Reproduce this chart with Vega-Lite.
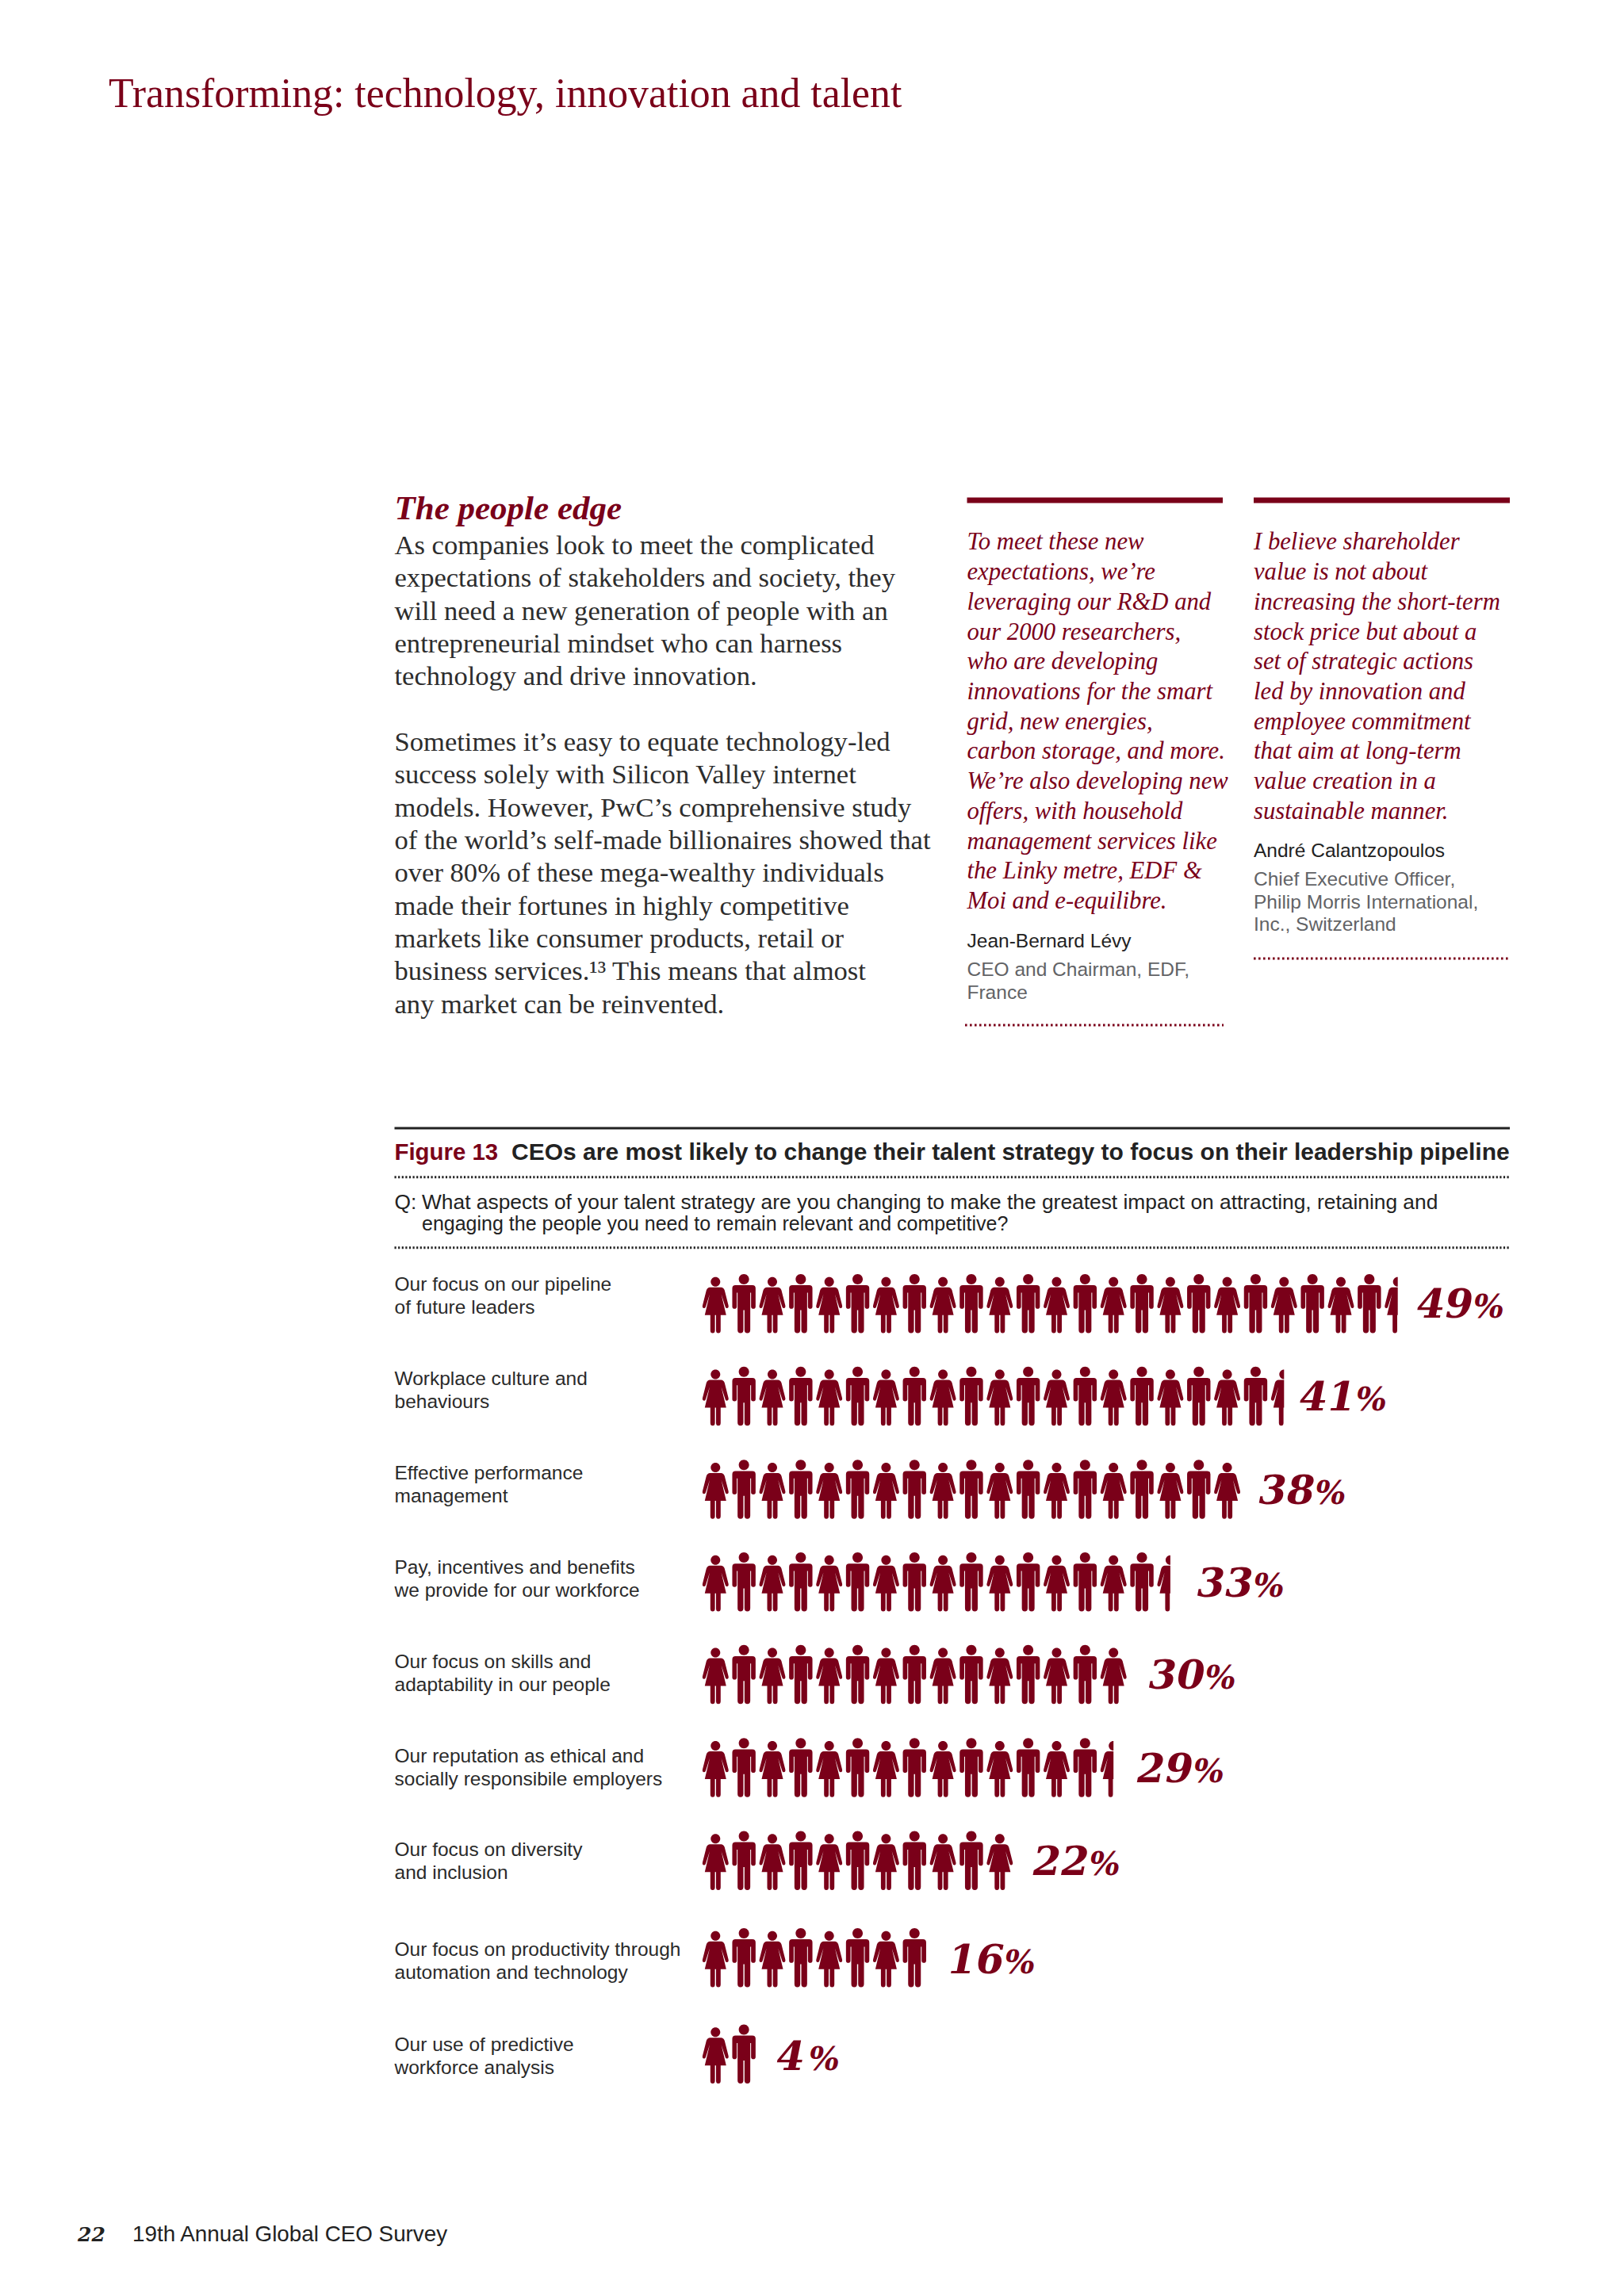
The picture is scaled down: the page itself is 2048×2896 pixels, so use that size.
{
"$schema":"https://vega.github.io/schema/vega-lite/v6.json",
"autosize":{"type":"fit","contains":"padding"},"width":2048,"height":2896,"padding":0,"background":"#ffffff",
"config":{"view":{"stroke":null}},
"datasets":{
"rules":[
{"style":"heavy","line":1,"col":7,"colEnd":8},{"style":"heavy","line":1,"col":9,"colEnd":10},
{"style":"dotRed","line":2,"col":9,"colEnd":10},{"style":"dotRed","line":3,"col":7,"colEnd":8},
{"style":"dark","line":4,"col":4,"colEnd":10},
{"style":"dotDark","line":5,"col":4,"colEnd":10},{"style":"dotDark","line":6,"col":4,"colEnd":10}
],
"page":[
{"style":"title","col":2,"line":1,"text":"Transforming: technology, innovation and talent"},
{"style":"head","col":4,"line":1,"text":"The people edge"},
{"style":"body","col":4,"line":1,"text":"As companies look to meet the complicated"},
{"style":"body","col":4,"line":2,"text":"expectations of stakeholders and society, they"},
{"style":"body","col":4,"line":3,"text":"will need a new generation of people with an"},
{"style":"body","col":4,"line":4,"text":"entrepreneurial mindset who can harness"},
{"style":"body","col":4,"line":5,"text":"technology and drive innovation."},
{"style":"body","col":4,"line":7,"text":"Sometimes it’s easy to equate technology-led"},
{"style":"body","col":4,"line":8,"text":"success solely with Silicon Valley internet"},
{"style":"body","col":4,"line":9,"text":"models. However, PwC’s comprehensive study"},
{"style":"body","col":4,"line":10,"text":"of the world’s self-made billionaires showed that"},
{"style":"body","col":4,"line":11,"text":"over 80% of these mega-wealthy individuals"},
{"style":"body","col":4,"line":12,"text":"made their fortunes in highly competitive"},
{"style":"body","col":4,"line":13,"text":"markets like consumer products, retail or"},
{"style":"body","col":4,"line":14,"text":"business services.¹³ This means that almost"},
{"style":"body","col":4,"line":15,"text":"any market can be reinvented."},
{"style":"quote","col":7,"line":1,"text":"To meet these new"},
{"style":"quote","col":7,"line":2,"text":"expectations, we’re"},
{"style":"quote","col":7,"line":3,"text":"leveraging our R&D and"},
{"style":"quote","col":7,"line":4,"text":"our 2000 researchers,"},
{"style":"quote","col":7,"line":5,"text":"who are developing"},
{"style":"quote","col":7,"line":6,"text":"innovations for the smart"},
{"style":"quote","col":7,"line":7,"text":"grid, new energies,"},
{"style":"quote","col":7,"line":8,"text":"carbon storage, and more."},
{"style":"quote","col":7,"line":9,"text":"We’re also developing new"},
{"style":"quote","col":7,"line":10,"text":"offers, with household"},
{"style":"quote","col":7,"line":11,"text":"management services like"},
{"style":"quote","col":7,"line":12,"text":"the Linky metre, EDF &"},
{"style":"quote","col":7,"line":13,"text":"Moi and e-equilibre."},
{"style":"quote","col":9,"line":1,"text":"I believe shareholder"},
{"style":"quote","col":9,"line":2,"text":"value is not about"},
{"style":"quote","col":9,"line":3,"text":"increasing the short-term"},
{"style":"quote","col":9,"line":4,"text":"stock price but about a"},
{"style":"quote","col":9,"line":5,"text":"set of strategic actions"},
{"style":"quote","col":9,"line":6,"text":"led by innovation and"},
{"style":"quote","col":9,"line":7,"text":"employee commitment"},
{"style":"quote","col":9,"line":8,"text":"that aim at long-term"},
{"style":"quote","col":9,"line":9,"text":"value creation in a"},
{"style":"quote","col":9,"line":10,"text":"sustainable manner."},
{"style":"name","col":7,"line":2,"text":"Jean-Bernard Lévy"},
{"style":"name","col":9,"line":1,"text":"André Calantzopoulos"},
{"style":"role","col":9,"line":1,"text":"Chief Executive Officer,"},
{"style":"role","col":9,"line":2,"text":"Philip Morris International,"},
{"style":"role","col":9,"line":3,"text":"Inc., Switzerland"},
{"style":"role","col":7,"line":5,"text":"CEO and Chairman, EDF,"},
{"style":"role","col":7,"line":6,"text":"France"},
{"style":"figNo","col":4,"line":1,"text":"Figure 13"},
{"style":"figTitle","col":6,"line":1,"text":"CEOs are most likely to change their talent strategy to focus on their leadership pipeline"},
{"style":"question","col":4,"line":1,"text":"Q:"},
{"style":"question","col":5,"line":1,"text":"What aspects of your talent strategy are you changing to make the greatest impact on attracting, retaining and"},
{"style":"question2","col":5,"line":2,"text":"engaging the people you need to remain relevant and competitive?"},
{"style":"pageNo","col":1,"line":1,"text":"22"},
{"style":"footer","col":3,"line":1,"text":"19th Annual Global CEO Survey"}
],
"rows":[
{"rank":1,"label":"Our focus on our pipeline\nof future leaders","value":49},
{"rank":2,"label":"Workplace culture and\nbehaviours","value":41},
{"rank":3,"label":"Effective performance\nmanagement","value":38},
{"rank":4,"label":"Pay, incentives and benefits\nwe provide for our workforce","value":33},
{"rank":5,"label":"Our focus on skills and\nadaptability in our people","value":30},
{"rank":6,"label":"Our reputation as ethical and\nsocially responsibile employers","value":29},
{"rank":7,"label":"Our focus on diversity\nand inclusion","value":22},
{"rank":8,"label":"Our focus on productivity through\nautomation and technology","value":16},
{"rank":9,"label":"Our use of predictive\nworkforce analysis","value":4}
],
"figures":[
{"rank":1,"n":1,"figure":"woman"},{"rank":1,"n":2,"figure":"man"},{"rank":1,"n":3,"figure":"woman"},{"rank":1,"n":4,"figure":"man"},{"rank":1,"n":5,"figure":"woman"},{"rank":1,"n":6,"figure":"man"},{"rank":1,"n":7,"figure":"woman"},{"rank":1,"n":8,"figure":"man"},{"rank":1,"n":9,"figure":"woman"},{"rank":1,"n":10,"figure":"man"},{"rank":1,"n":11,"figure":"woman"},{"rank":1,"n":12,"figure":"man"},{"rank":1,"n":13,"figure":"woman"},{"rank":1,"n":14,"figure":"man"},{"rank":1,"n":15,"figure":"woman"},{"rank":1,"n":16,"figure":"man"},{"rank":1,"n":17,"figure":"woman"},{"rank":1,"n":18,"figure":"man"},{"rank":1,"n":19,"figure":"woman"},{"rank":1,"n":20,"figure":"man"},{"rank":1,"n":21,"figure":"woman"},{"rank":1,"n":22,"figure":"man"},{"rank":1,"n":23,"figure":"woman"},{"rank":1,"n":24,"figure":"man"},{"rank":1,"n":25,"figure":"womanHalf"},
{"rank":2,"n":1,"figure":"woman"},{"rank":2,"n":2,"figure":"man"},{"rank":2,"n":3,"figure":"woman"},{"rank":2,"n":4,"figure":"man"},{"rank":2,"n":5,"figure":"woman"},{"rank":2,"n":6,"figure":"man"},{"rank":2,"n":7,"figure":"woman"},{"rank":2,"n":8,"figure":"man"},{"rank":2,"n":9,"figure":"woman"},{"rank":2,"n":10,"figure":"man"},{"rank":2,"n":11,"figure":"woman"},{"rank":2,"n":12,"figure":"man"},{"rank":2,"n":13,"figure":"woman"},{"rank":2,"n":14,"figure":"man"},{"rank":2,"n":15,"figure":"woman"},{"rank":2,"n":16,"figure":"man"},{"rank":2,"n":17,"figure":"woman"},{"rank":2,"n":18,"figure":"man"},{"rank":2,"n":19,"figure":"woman"},{"rank":2,"n":20,"figure":"man"},{"rank":2,"n":21,"figure":"womanHalf"},
{"rank":3,"n":1,"figure":"woman"},{"rank":3,"n":2,"figure":"man"},{"rank":3,"n":3,"figure":"woman"},{"rank":3,"n":4,"figure":"man"},{"rank":3,"n":5,"figure":"woman"},{"rank":3,"n":6,"figure":"man"},{"rank":3,"n":7,"figure":"woman"},{"rank":3,"n":8,"figure":"man"},{"rank":3,"n":9,"figure":"woman"},{"rank":3,"n":10,"figure":"man"},{"rank":3,"n":11,"figure":"woman"},{"rank":3,"n":12,"figure":"man"},{"rank":3,"n":13,"figure":"woman"},{"rank":3,"n":14,"figure":"man"},{"rank":3,"n":15,"figure":"woman"},{"rank":3,"n":16,"figure":"man"},{"rank":3,"n":17,"figure":"woman"},{"rank":3,"n":18,"figure":"man"},{"rank":3,"n":19,"figure":"woman"},
{"rank":4,"n":1,"figure":"woman"},{"rank":4,"n":2,"figure":"man"},{"rank":4,"n":3,"figure":"woman"},{"rank":4,"n":4,"figure":"man"},{"rank":4,"n":5,"figure":"woman"},{"rank":4,"n":6,"figure":"man"},{"rank":4,"n":7,"figure":"woman"},{"rank":4,"n":8,"figure":"man"},{"rank":4,"n":9,"figure":"woman"},{"rank":4,"n":10,"figure":"man"},{"rank":4,"n":11,"figure":"woman"},{"rank":4,"n":12,"figure":"man"},{"rank":4,"n":13,"figure":"woman"},{"rank":4,"n":14,"figure":"man"},{"rank":4,"n":15,"figure":"woman"},{"rank":4,"n":16,"figure":"man"},{"rank":4,"n":17,"figure":"womanHalf"},
{"rank":5,"n":1,"figure":"woman"},{"rank":5,"n":2,"figure":"man"},{"rank":5,"n":3,"figure":"woman"},{"rank":5,"n":4,"figure":"man"},{"rank":5,"n":5,"figure":"woman"},{"rank":5,"n":6,"figure":"man"},{"rank":5,"n":7,"figure":"woman"},{"rank":5,"n":8,"figure":"man"},{"rank":5,"n":9,"figure":"woman"},{"rank":5,"n":10,"figure":"man"},{"rank":5,"n":11,"figure":"woman"},{"rank":5,"n":12,"figure":"man"},{"rank":5,"n":13,"figure":"woman"},{"rank":5,"n":14,"figure":"man"},{"rank":5,"n":15,"figure":"woman"},
{"rank":6,"n":1,"figure":"woman"},{"rank":6,"n":2,"figure":"man"},{"rank":6,"n":3,"figure":"woman"},{"rank":6,"n":4,"figure":"man"},{"rank":6,"n":5,"figure":"woman"},{"rank":6,"n":6,"figure":"man"},{"rank":6,"n":7,"figure":"woman"},{"rank":6,"n":8,"figure":"man"},{"rank":6,"n":9,"figure":"woman"},{"rank":6,"n":10,"figure":"man"},{"rank":6,"n":11,"figure":"woman"},{"rank":6,"n":12,"figure":"man"},{"rank":6,"n":13,"figure":"woman"},{"rank":6,"n":14,"figure":"man"},{"rank":6,"n":15,"figure":"womanHalf"},
{"rank":7,"n":1,"figure":"woman"},{"rank":7,"n":2,"figure":"man"},{"rank":7,"n":3,"figure":"woman"},{"rank":7,"n":4,"figure":"man"},{"rank":7,"n":5,"figure":"woman"},{"rank":7,"n":6,"figure":"man"},{"rank":7,"n":7,"figure":"woman"},{"rank":7,"n":8,"figure":"man"},{"rank":7,"n":9,"figure":"woman"},{"rank":7,"n":10,"figure":"man"},{"rank":7,"n":11,"figure":"woman"},
{"rank":8,"n":1,"figure":"woman"},{"rank":8,"n":2,"figure":"man"},{"rank":8,"n":3,"figure":"woman"},{"rank":8,"n":4,"figure":"man"},{"rank":8,"n":5,"figure":"woman"},{"rank":8,"n":6,"figure":"man"},{"rank":8,"n":7,"figure":"woman"},{"rank":8,"n":8,"figure":"man"},
{"rank":9,"n":1,"figure":"woman"},{"rank":9,"n":2,"figure":"man"}
]
},
"resolve":{"scale":{"x":"independent","y":"independent"}},
"layer":[
{"data":{"name":"rules"},"transform":[{"filter":"datum.style==='heavy'"}],"mark":{"type":"rule","color":"#7A0019","strokeWidth":7},
 "encoding":{"x":{"field":"col","type":"quantitative","axis":null,"scale":{"domain":[1,2,3,4,5,6,7,8,9,10],"range":[97,137,167,497.5,532,645,1219.5,1542,1581,1904]}},"x2":{"field":"colEnd"},
 "y":{"field":"line","type":"quantitative","axis":null,"scale":{"domain":[1,2,3,4,5,6],"range":[631,1209,1293,1423,1484.7,1573.7]}}}},
{"data":{"name":"rules"},"transform":[{"filter":"datum.style==='dotRed'"}],"mark":{"type":"rule","color":"#7A0019","strokeWidth":3,"strokeDash":[2.6,3.4]},
 "encoding":{"x":{"field":"col","type":"quantitative","axis":null,"scale":{"domain":[1,2,3,4,5,6,7,8,9,10],"range":[97,137,167,497.5,532,645,1217,1543,1581,1904]}},"x2":{"field":"colEnd"},
 "y":{"field":"line","type":"quantitative","axis":null,"scale":{"domain":[1,2,3,4,5,6],"range":[631,1209,1293,1423,1484.7,1573.7]}}}},
{"data":{"name":"rules"},"transform":[{"filter":"datum.style==='dark'"}],"mark":{"type":"rule","color":"#222222","strokeWidth":3},
 "encoding":{"x":{"field":"col","type":"quantitative","axis":null,"scale":{"domain":[1,2,3,4,5,6,7,8,9,10],"range":[97,137,167,497.5,532,645,1219.5,1542,1581,1904]}},"x2":{"field":"colEnd"},
 "y":{"field":"line","type":"quantitative","axis":null,"scale":{"domain":[1,2,3,4,5,6],"range":[631,1209,1293,1423,1484.7,1573.7]}}}},
{"data":{"name":"rules"},"transform":[{"filter":"datum.style==='dotDark'"}],"mark":{"type":"rule","color":"#222222","strokeWidth":3,"strokeDash":[2.2,2.4]},
 "encoding":{"x":{"field":"col","type":"quantitative","axis":null,"scale":{"domain":[1,2,3,4,5,6,7,8,9,10],"range":[97,137,167,497.5,532,645,1219.5,1542,1581,1904]}},"x2":{"field":"colEnd"},
 "y":{"field":"line","type":"quantitative","axis":null,"scale":{"domain":[1,2,3,4,5,6],"range":[631,1209,1293,1423,1484.7,1573.7]}}}},
{"data":{"name":"page"},"transform":[{"filter":"datum.style==='title'"}],"mark":{"type":"text","align":"left","baseline":"alphabetic","font":"Liberation Serif","fontSize":51.8,"color":"#7A0019"},
 "encoding":{"x":{"field":"col","type":"quantitative","axis":null,"scale":{"domain":[1,2,3,4,5,6,7,8,9,10],"range":[97,137,167,497.5,532,645,1219.5,1542,1581,1904]}},"y":{"field":"line","type":"quantitative","axis":null,"scale":{"domain":[1,2],"range":[135,200]}},"text":{"field":"text"}}},
{"data":{"name":"page"},"transform":[{"filter":"datum.style==='head'"}],"mark":{"type":"text","align":"left","baseline":"alphabetic","font":"Liberation Serif","fontSize":43,"fontWeight":"bold","fontStyle":"italic","color":"#7A0019"},
 "encoding":{"x":{"field":"col","type":"quantitative","axis":null,"scale":{"domain":[1,2,3,4,5,6,7,8,9,10],"range":[97,137,167,497.5,532,645,1219.5,1542,1581,1904]}},"y":{"field":"line","type":"quantitative","axis":null,"scale":{"domain":[1,2],"range":[655,700]}},"text":{"field":"text"}}},
{"data":{"name":"page"},"transform":[{"filter":"datum.style==='body'"}],"mark":{"type":"text","align":"left","baseline":"alphabetic","font":"Liberation Serif","fontSize":34.6,"color":"#2D2D2D"},
 "encoding":{"x":{"field":"col","type":"quantitative","axis":null,"scale":{"domain":[1,2,3,4,5,6,7,8,9,10],"range":[97,137,167,497.5,532,645,1219.5,1542,1581,1904]}},"y":{"field":"line","type":"quantitative","axis":null,"scale":{"domain":[1,15],"range":[699,1277.5]}},"text":{"field":"text"}}},
{"data":{"name":"page"},"transform":[{"filter":"datum.style==='quote'"}],"mark":{"type":"text","align":"left","baseline":"alphabetic","font":"Liberation Serif","fontSize":30.7,"fontStyle":"italic","color":"#7A0019"},
 "encoding":{"x":{"field":"col","type":"quantitative","axis":null,"scale":{"domain":[1,2,3,4,5,6,7,8,9,10],"range":[97,137,167,497.5,532,645,1219.5,1542,1581,1904]}},"y":{"field":"line","type":"quantitative","axis":null,"scale":{"domain":[1,13],"range":[693.4,1146]}},"text":{"field":"text"}}},
{"data":{"name":"page"},"transform":[{"filter":"datum.style==='name'"}],"mark":{"type":"text","align":"left","baseline":"alphabetic","font":"Liberation Sans","fontSize":24.5,"color":"#222222"},
 "encoding":{"x":{"field":"col","type":"quantitative","axis":null,"scale":{"domain":[1,2,3,4,5,6,7,8,9,10],"range":[97,137,167,497.5,532,645,1219.5,1542,1581,1904]}},"y":{"field":"line","type":"quantitative","axis":null,"scale":{"domain":[1,2],"range":[1080.5,1194.5]}},"text":{"field":"text"}}},
{"data":{"name":"page"},"transform":[{"filter":"datum.style==='role'"}],"mark":{"type":"text","align":"left","baseline":"alphabetic","font":"Liberation Sans","fontSize":24.5,"color":"#626366"},
 "encoding":{"x":{"field":"col","type":"quantitative","axis":null,"scale":{"domain":[1,2,3,4,5,6,7,8,9,10],"range":[97,137,167,497.5,532,645,1219.5,1542,1581,1904]}},"y":{"field":"line","type":"quantitative","axis":null,"scale":{"domain":[1,6],"range":[1117,1260]}},"text":{"field":"text"}}},
{"data":{"name":"page"},"transform":[{"filter":"datum.style==='figNo'"}],"mark":{"type":"text","align":"left","baseline":"alphabetic","font":"Liberation Sans","fontSize":29.4,"fontWeight":"bold","color":"#7A0019"},
 "encoding":{"x":{"field":"col","type":"quantitative","axis":null,"scale":{"domain":[1,2,3,4,5,6,7,8,9,10],"range":[97,137,167,497.5,532,645,1219.5,1542,1581,1904]}},"y":{"field":"line","type":"quantitative","axis":null,"scale":{"domain":[1,2],"range":[1463,1500]}},"text":{"field":"text"}}},
{"data":{"name":"page"},"transform":[{"filter":"datum.style==='figTitle'"}],"mark":{"type":"text","align":"left","baseline":"alphabetic","font":"Liberation Sans","fontSize":30,"fontWeight":"bold","color":"#222222"},
 "encoding":{"x":{"field":"col","type":"quantitative","axis":null,"scale":{"domain":[1,2,3,4,5,6,7,8,9,10],"range":[97,137,167,497.5,532,645,1219.5,1542,1581,1904]}},"y":{"field":"line","type":"quantitative","axis":null,"scale":{"domain":[1,2],"range":[1463,1500]}},"text":{"field":"text"}}},
{"data":{"name":"page"},"transform":[{"filter":"datum.style==='question'"}],"mark":{"type":"text","align":"left","baseline":"alphabetic","font":"Liberation Sans","fontSize":26.35,"color":"#222222"},
 "encoding":{"x":{"field":"col","type":"quantitative","axis":null,"scale":{"domain":[1,2,3,4,5,6,7,8,9,10],"range":[97,137,167,497.5,532,645,1219.5,1542,1581,1904]}},"y":{"field":"line","type":"quantitative","axis":null,"scale":{"domain":[1,2],"range":[1525,1552]}},"text":{"field":"text"}}},
{"data":{"name":"page"},"transform":[{"filter":"datum.style==='question2'"}],"mark":{"type":"text","align":"left","baseline":"alphabetic","font":"Liberation Sans","fontSize":25,"color":"#222222"},
 "encoding":{"x":{"field":"col","type":"quantitative","axis":null,"scale":{"domain":[1,2,3,4,5,6,7,8,9,10],"range":[97,137,167,497.5,532,645,1219.5,1542,1581,1904]}},"y":{"field":"line","type":"quantitative","axis":null,"scale":{"domain":[1,2],"range":[1525,1552]}},"text":{"field":"text"}}},
{"data":{"name":"page"},"transform":[{"filter":"datum.style==='pageNo'"}],"mark":{"type":"text","align":"left","baseline":"alphabetic","font":"DejaVu Serif","fontSize":25,"fontWeight":"bold","fontStyle":"italic","color":"#222222"},
 "encoding":{"x":{"field":"col","type":"quantitative","axis":null,"scale":{"domain":[1,2,3,4,5,6,7,8,9,10],"range":[98,137,167,497.5,532,645,1219.5,1542,1581,1904]}},"y":{"field":"line","type":"quantitative","axis":null,"scale":{"domain":[1,2],"range":[2826.7,2860]}},"text":{"field":"text"}}},
{"data":{"name":"page"},"transform":[{"filter":"datum.style==='footer'"}],"mark":{"type":"text","align":"left","baseline":"alphabetic","font":"Liberation Sans","fontSize":27.8,"color":"#222222"},
 "encoding":{"x":{"field":"col","type":"quantitative","axis":null,"scale":{"domain":[1,2,3,4,5,6,7,8,9,10],"range":[97,137,167,497.5,532,645,1219.5,1542,1581,1904]}},"y":{"field":"line","type":"quantitative","axis":null,"scale":{"domain":[1,2],"range":[2826.7,2860]}},"text":{"field":"text"}}},
{"data":{"name":"figures"},"mark":{"type":"point","filled":true,"opacity":1,"size":4,"strokeWidth":0,"color":"#7A0019"},
 "encoding":{"x":{"field":"n","type":"quantitative","axis":null,"scale":{"domain":[1,25],"range":[902.3,1762.7]}},
 "y":{"field":"rank","type":"quantitative","axis":null,"scale":{"domain":[1,2,3,4,5,6,7,8,9],"range":[1644.4,1761.2,1878.7,1995.5,2112.3,2229.8,2346.9,2469.4,2590.9]}},
 "shape":{"field":"figure","type":"nominal","legend":null,"scale":{"domain":["woman","man","womanHalf"],"range":[
 "M-6,-27.7 A6,6 0 1 1 6,-27.7 A6,6 0 1 1 -6,-27.7 Z M-7,-20.7 H7 Q10,-20.7 11.5,-17 L16.3,2 Q17,5.3 14.5,5.5 Q12.8,5.8 12.3,3.5 L7.3,-12 L13.5,14.3 H6.5 V33.5 Q6.5,37 3.6,37 Q0.7,37 0.7,33.5 V14.3 H-0.7 V33.5 Q-0.7,37 -3.6,37 Q-6.5,37 -6.5,33.5 V14.3 H-13.5 L-7.3,-12 L-12.3,3.5 Q-12.8,5.8 -14.5,5.5 Q-17,5.3 -16.3,2 L-11.5,-17 Q-10,-20.7 -7,-20.7 Z",
 "M-6.5,-31 A6.5,6.5 0 1 1 6.5,-31 A6.5,6.5 0 1 1 -6.5,-31 Z M-10.7,-23.3 H10.7 Q14.7,-23.3 14.7,-19.3 V3.5 Q14.7,6.3 11.9,6.3 Q9,6.3 9,3.5 V-14 H8 V33 Q8,37 4.3,37 Q0.7,37 0.7,33 V8 H-0.7 V33 Q-0.7,37 -4.3,37 Q-8,37 -8,33 V-14 H-9 V3.5 Q-9,6.3 -11.9,6.3 Q-14.7,6.3 -14.7,3.5 V-19.3 Q-14.7,-23.3 -10.7,-23.3 Z",
 "M0,-33.7 A6,6 0 0 0 0,-21.7 Z M0,-20.7 H-7 Q-10,-20.7 -11.5,-17 L-16.3,2 Q-17,5.3 -14.5,5.5 Q-12.8,5.8 -12.3,3.5 L-7.3,-12 L-13.5,14.3 H-6.5 V33.5 Q-6.5,37 -3.6,37 Q-0.7,37 -0.7,33.5 V14.3 H0 Z"
 ]}}}},
{"data":{"name":"rows"},"mark":{"type":"text","align":"left","baseline":"alphabetic","font":"Liberation Sans","fontSize":24.5,"lineHeight":29,"lineBreak":"\n","color":"#2A2A2A"},
 "encoding":{"x":{"field":"rank","type":"quantitative","axis":null,"scale":{"domain":[1,9],"range":[497.5,497.5]}},
 "y":{"field":"rank","type":"quantitative","axis":null,"scale":{"domain":[1,2,3,4,5,6,7,8,9],"range":[1628.2,1747,1865.7,1984.6,2103.6,2222.5,2341.4,2467,2587]}},"text":{"field":"label"}}},
{"data":{"name":"rows"},"mark":{"type":"text","align":"left","baseline":"alphabetic","font":"DejaVu Serif","fontSize":51,"fontWeight":"bold","fontStyle":"italic","color":"#7A0019"},
 "encoding":{"x":{"field":"value","type":"quantitative","axis":null,"scale":{"domain":[4,16,22,29,30,33,38,41,49],"range":[979.5,1195.7,1302.8,1434,1448.8,1509.8,1587.4,1639,1787]}},
 "y":{"field":"rank","type":"quantitative","axis":null,"scale":{"domain":[1,2,3,4,5,6,7,8,9],"range":[1662,1779,1896.5,2013.5,2130,2247.5,2364.5,2488.5,2610.5]}},"text":{"field":"value"}}},
{"data":{"name":"rows"},"mark":{"type":"text","align":"left","baseline":"alphabetic","font":"DejaVu Serif","fontSize":41,"fontWeight":"bold","fontStyle":"italic","color":"#7A0019","text":"%"},
 "encoding":{"x":{"field":"value","type":"quantitative","axis":null,"scale":{"domain":[4,16,22,29,30,33,38,41,49],"range":[1020,1266.7,1373.8,1505,1519.8,1580.8,1658.4,1710,1858]}},
 "y":{"field":"rank","type":"quantitative","axis":null,"scale":{"domain":[1,2,3,4,5,6,7,8,9],"range":[1662,1779,1896.5,2013.5,2130,2247.5,2364.5,2488.5,2610.5]}}}}
]
}
